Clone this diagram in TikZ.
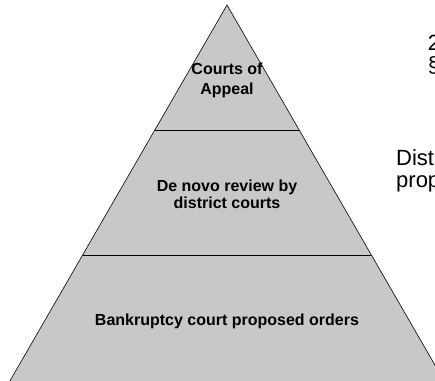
\documentclass[tikz,border=0pt]{standalone}
\usepackage{fontspec}
\usepackage{xcolor}
\usepackage{tikz}
\usetikzlibrary{positioning, calc}
\newfontfamily\arialfont{Liberation Sans}
\definecolor{tiergray}{RGB}{200,200,200}

\begin{document}
\begin{tikzpicture}[x=1pt, y=-1pt,
  tier/.style={font=\arialfont\bfseries\fontsize{16}{18}\selectfont, align=center, inner sep=0pt},
  side/.style={font=\arialfont\fontsize{22}{26}\selectfont, anchor=base west, inner sep=0pt}]

% --- Frame: the picture is cut off at its edges ---
\path[use as bounding box, clip] (0,0) rectangle (435,380);

% --- Pyramid ---
\coordinate (apex) at (227,5);
\draw[fill=tiergray, line width=0.6pt] (apex) -- (6.4,387) -- (447.6,387) -- cycle;

% tier borders
\draw[line width=0.9pt] (154.8,130) -- (299.2,130);
\draw[line width=0.9pt] (82.7,255) -- (371.3,255);

% --- Tier labels ---
\node[tier] (courts) at (227,80) {Courts of\\[2pt]Appeal};
\node[tier] (denovo) at (227,194) {De novo review by\\[-1pt]district courts};
\node[tier, anchor=base] (bankruptcy) at (227,325.5) {Bankruptcy court proposed orders};

% --- Side notes (cut by the frame) ---
\node[side] (cite1) at (427.7,50) {2};
\node[side] (cite2) at (427.7,72) {§};
\node[side] (dist1) at (396,165) {Dist};
\node[side] (dist2) at (396,187) {prop};

\end{tikzpicture}
\end{document}
